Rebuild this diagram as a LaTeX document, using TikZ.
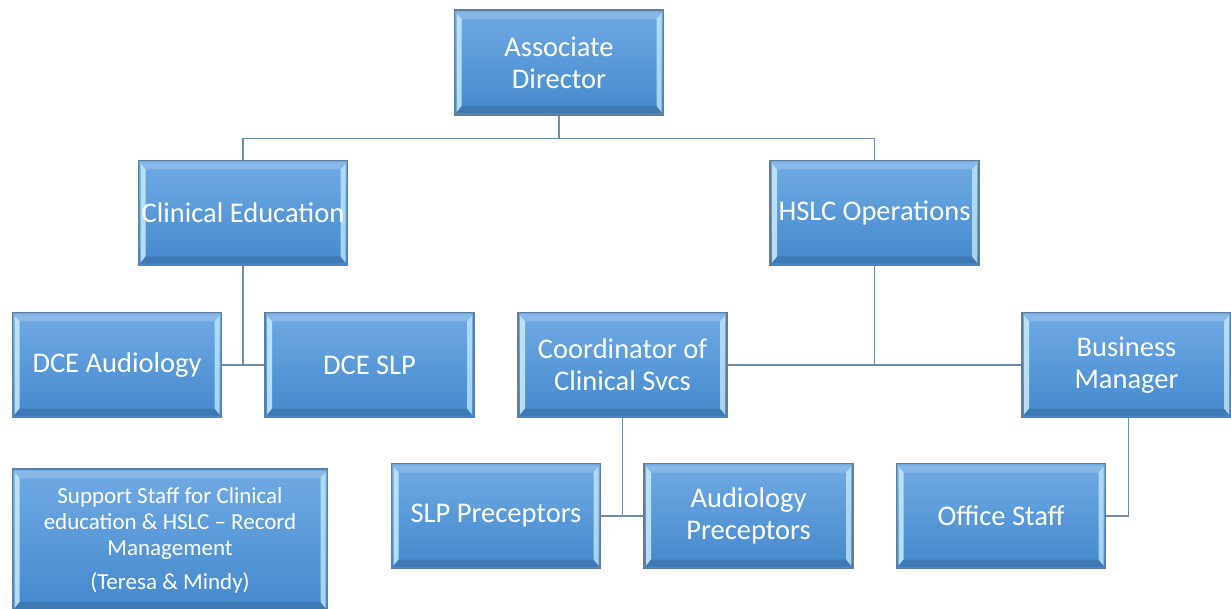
\documentclass[tikz,border=0pt]{standalone}
\usepackage{fontspec}
\setmainfont{Carlito}
\usetikzlibrary{calc}
\definecolor{boxtop}{RGB}{112,170,228}
\definecolor{boxbot}{RGB}{68,136,204}
\definecolor{bordc}{RGB}{95,125,158}
\definecolor{bevl}{RGB}{200,236,252}
\definecolor{connc}{RGB}{112,140,170}
\newcommand{\lowtxt}[1]{\raisebox{-2.5pt}{#1}}
\tikzset{
  orgbox/.style={rectangle, minimum width=209pt, minimum height=105pt,
    draw=bordc, line width=1.2pt, top color=boxtop, bottom color=boxbot,
    text=white, font=\fontsize{28.5}{32}\selectfont, align=center, inner sep=1pt,
    path picture={
      \fill[bevl, opacity=0.85]
        ([xshift=2pt,yshift=-3pt]path picture bounding box.north west) --
        ([xshift=7pt,yshift=-9pt]path picture bounding box.north west) --
        ([xshift=7pt,yshift=9pt]path picture bounding box.south west) --
        ([xshift=2pt,yshift=3pt]path picture bounding box.south west) -- cycle;
      \fill[bevl, opacity=0.75]
        ([xshift=-2pt,yshift=-3pt]path picture bounding box.north east) --
        ([xshift=-7pt,yshift=-9pt]path picture bounding box.north east) --
        ([xshift=-7pt,yshift=9pt]path picture bounding box.south east) --
        ([xshift=-2pt,yshift=3pt]path picture bounding box.south east) -- cycle;
      \fill[white, opacity=0.18]
        ([xshift=2pt,yshift=-2pt]path picture bounding box.north west) --
        ([xshift=-2pt,yshift=-2pt]path picture bounding box.north east) --
        ([xshift=-7pt,yshift=-9pt]path picture bounding box.north east) --
        ([xshift=7pt,yshift=-9pt]path picture bounding box.north west) -- cycle;
      \fill[black, opacity=0.12]
        ([xshift=2pt,yshift=2pt]path picture bounding box.south west) --
        ([xshift=-2pt,yshift=2pt]path picture bounding box.south east) --
        ([xshift=-7pt,yshift=9pt]path picture bounding box.south east) --
        ([xshift=7pt,yshift=9pt]path picture bounding box.south west) -- cycle;
    }},
  conn/.style={draw=connc, line width=1.8pt}
}
\begin{document}
\begin{tikzpicture}[x=1pt,y=-1pt]
\useasboundingbox (0,0) rectangle (1231,609);
\node[orgbox] (AD) at (559,62.5) {Associate\\Director};
\node[orgbox] (CE) at (243,213) {\lowtxt{Clinical Education}};
\node[orgbox] (HS) at (874.5,213) {\lowtxt{HSLC Operations}};
\node[orgbox] (DA) at (117,365) {\lowtxt{DCE Audiology}};
\node[orgbox] (DS) at (369.5,365) {\lowtxt{DCE SLP}};
\node[orgbox] (CO) at (622.5,365) {Coordinator of\\Clinical Svcs};
\node[orgbox] (BM) at (1126.5,365) {Business\\Manager};
\node[orgbox] (SP) at (496,516) {\lowtxt{SLP Preceptors}};
\node[orgbox] (AP) at (748.5,516) {Audiology\\Preceptors};
\node[orgbox] (OS) at (1001,516) {\lowtxt{Office Staff}};
\node[orgbox, minimum width=315pt, minimum height=142pt,
      font=\fontsize{23}{26}\selectfont] (SU) at (170,540)
  {Support Staff for Clinical\\education \& HSLC – Record\\Management\\[8pt](Teresa \& Mindy)};
\coordinate (j1) at ($(AD.south)+(0,23)$);
\draw[conn] (AD.south) -- (j1);
\draw[conn] (CE.north) |- (j1) -| (HS.north);
\draw[conn] (CE.south) -- (CE.south |- DA.east);
\draw[conn] (DA.east) -- (DS.west);
\draw[conn] (HS.south) -- (HS.south |- CO.east);
\draw[conn] (CO.east) -- (BM.west);
\draw[conn] (CO.south) -- (CO.south |- SP.east);
\draw[conn] (SP.east) -- (AP.west);
\draw[conn] ([xshift=2pt]BM.south) |- (OS.east);
\end{tikzpicture}
\end{document}
